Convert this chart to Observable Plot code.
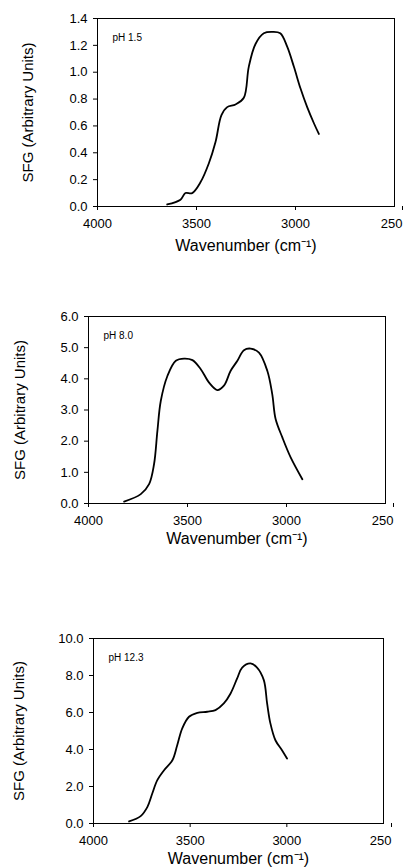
<!DOCTYPE html>
<html>
<head>
<meta charset="utf-8">
<script src="https://cdn.jsdelivr.net/npm/d3@7"></script>
<script src="https://cdn.jsdelivr.net/npm/@observablehq/plot@0.6"></script>
<style>
  html, body { margin: 0; padding: 0; background: #fff; }
  #wrap { position: relative; width: 403px; height: 868px; overflow: hidden; font-family: Arial, "Liberation Sans", sans-serif; }
  .panel { position: absolute; left: 0; }
</style>
</head>
<body>
<div id="wrap"></div>
<script>
// Tick values / labels
const xTickValues = [4000, 3500, 3000];
const xTickLabels = ["4000", "3500", "3000"];
const xLastTick = [2500];
const xLastLabel = ["250"];
const xTitle = "Wavenumber (cm\u207B\u00B9)";
const yTitle = "SFG (Arbitrary Units)";

// pH 1.5
const wn1 = [3648, 3581, 3556, 3522, 3480, 3438, 3404, 3374, 3345, 3303, 3261, 3236, 3202, 3160, 3118, 3077, 3042, 3008, 2975, 2941, 2907, 2882];
const sfg1 = [0.015, 0.05, 0.10, 0.10, 0.18, 0.32, 0.48, 0.68, 0.74, 0.76, 0.81, 1.04, 1.21, 1.29, 1.30, 1.29, 1.19, 1.04, 0.88, 0.74, 0.62, 0.54];
const yTicks1 = [0, 0.2, 0.4, 0.6, 0.8, 1.0, 1.2, 1.4];

// pH 8.0
const wn2 = [3820, 3736, 3694, 3669, 3652, 3635, 3601, 3559, 3517, 3475, 3433, 3391, 3349, 3316, 3282, 3248, 3215, 3181, 3139, 3097, 3072, 3055, 3021, 2979, 2920];
const sfg2 = [0.06, 0.30, 0.62, 1.26, 2.33, 3.29, 4.10, 4.58, 4.65, 4.60, 4.31, 3.88, 3.64, 3.78, 4.26, 4.58, 4.92, 4.97, 4.84, 4.26, 3.51, 2.71, 2.12, 1.48, 0.78];
const yTicks2 = [0, 1, 2, 3, 4, 5, 6];

// pH 12.3
const wn3 = [3816, 3756, 3721, 3696, 3670, 3635, 3592, 3567, 3541, 3506, 3463, 3412, 3369, 3326, 3291, 3257, 3231, 3188, 3154, 3119, 3102, 3085, 3059, 3025, 2999];
const sfg3 = [0.11, 0.40, 0.90, 1.62, 2.34, 2.88, 3.42, 4.23, 5.14, 5.77, 5.98, 6.04, 6.13, 6.49, 7.03, 7.84, 8.43, 8.65, 8.43, 7.75, 6.49, 5.41, 4.50, 3.96, 3.51];
const yTicks3 = [0, 2, 4, 6, 8, 10];

const panelLabels = ["pH 1.5", "pH 8.0", "pH 12.3"];

function panel(wn, sfg, yTicks, label, layout) {
  const data = wn.map((w, i) => ({w, s: sfg[i]}));
  const ymax = yTicks[yTicks.length - 1];
  return Plot.plot({
    width: 403,
    height: layout.height,
    marginTop: layout.mt,
    marginBottom: layout.mb,
    marginLeft: layout.ml,
    marginRight: layout.mr,
    style: {fontFamily: 'Arial, "Liberation Sans", sans-serif', color: "#000", background: "transparent", overflow: "visible"},
    x: {domain: [4000, 2500]},
    y: {domain: [0, ymax]},
    marks: [
      Plot.frame({stroke: "#000", strokeWidth: 1}),
      Plot.axisX({ticks: xTickValues, tickFormat: d => xTickLabels[xTickValues.indexOf(d)], tickSize: 4, tickPadding: 8, fontSize: 13, label: null, stroke: "#000"}),
      Plot.axisX({ticks: xLastTick, tickFormat: () => xLastLabel[0], tickSize: 4, tickPadding: 8, fontSize: 13, label: null, stroke: "#000", textAnchor: "end", dx: 8}),
      Plot.axisY({ticks: yTicks, tickFormat: d => d.toFixed(1), tickSize: 4, tickPadding: 6, fontSize: 13, label: null, stroke: "#000"}),
      Plot.line(data, {x: "w", y: "s", curve: "catmull-rom", stroke: "#000", strokeWidth: 1.8}),
      Plot.text([label], {frameAnchor: "top-left", dx: 15, dy: 15, text: d => d, fontSize: 10, textAnchor: "start", fill: "#000"}),
      Plot.text([xTitle], {frameAnchor: "bottom", dy: layout.xt, text: d => d, fontSize: 16, lineAnchor: "middle", textAnchor: "middle", fill: "#000"}),
      Plot.text([yTitle], {frameAnchor: "left", dx: -layout.yt, text: d => d, fontSize: 15, rotate: -90, lineAnchor: "middle", textAnchor: "middle", fill: "#000"})
    ]
  });
}

const layouts = [
  {top: 0, height: 262, mt: 18, mb: 56, ml: 97, mr: 9, xt: 39, yt: 69},
  {top: 290, height: 265, mt: 26, mb: 52, ml: 88, mr: 18, xt: 35, yt: 68},
  {top: 600, height: 268, mt: 38, mb: 45, ml: 93, mr: 20, xt: 35, yt: 74}
];
const wns = [wn1, wn2, wn3];
const sfgs = [sfg1, sfg2, sfg3];
const yts = [yTicks1, yTicks2, yTicks3];

const wrap = document.getElementById("wrap");
layouts.forEach((L, i) => {
  const div = document.createElement("div");
  div.className = "panel";
  div.style.top = L.top + "px";
  div.appendChild(panel(wns[i], sfgs[i], yts[i], panelLabels[i], L));
  wrap.appendChild(div);
});
</script>
</body>
</html>
